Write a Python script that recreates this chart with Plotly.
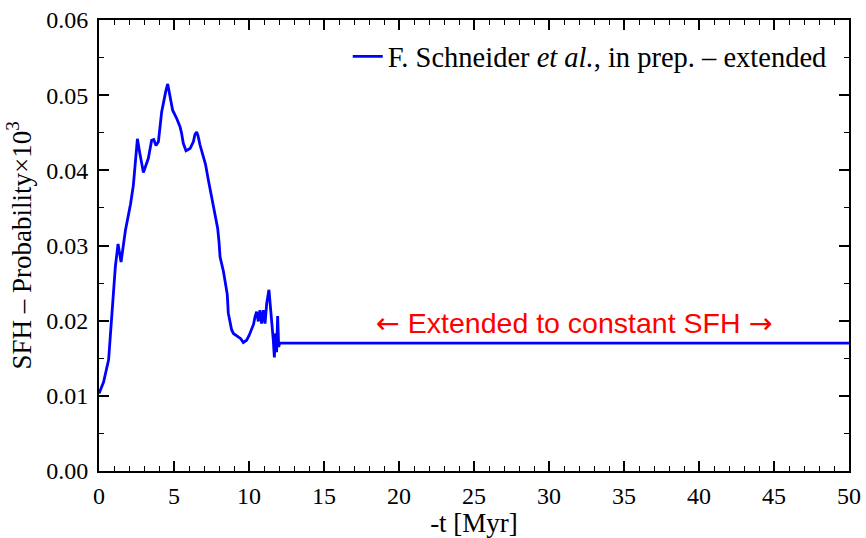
import plotly.graph_objects as go

# Data
t_myr = [0.0, 0.3, 0.64, 0.87, 1.09, 1.27, 1.47, 1.76, 1.91, 2.1, 2.29, 2.45, 2.56, 2.7,
         2.96, 3.1, 3.29, 3.51, 3.65, 3.8, 3.96, 4.18, 4.36, 4.45, 4.58, 4.73, 4.91,
         5.18, 5.4, 5.5, 5.62, 5.8, 6.07, 6.29, 6.4, 6.51, 6.6, 6.73, 6.84, 7.02, 7.1,
         7.29, 7.51, 7.73, 7.91, 8.0, 8.07, 8.3, 8.4, 8.55, 8.62, 8.75, 8.84, 8.96,
         9.29, 9.45, 9.62, 9.84, 10.0, 10.18, 10.3, 10.4, 10.51, 10.62, 10.73, 10.84,
         10.96, 11.07, 11.18, 11.33, 11.44, 11.51, 11.62, 11.69, 11.78, 11.84, 11.91,
         11.98, 12.04, 50.0]
sfh_prob = [0.0103, 0.0118, 0.0148, 0.0214, 0.0272, 0.0302, 0.0278, 0.0320, 0.0334, 0.0355,
            0.0380, 0.0425, 0.0442, 0.0425, 0.0397, 0.0405, 0.0416, 0.0440, 0.0441, 0.0433,
            0.0438, 0.0478, 0.0498, 0.0505, 0.0515, 0.0500, 0.0480, 0.0469, 0.0458, 0.0450,
            0.0436, 0.0426, 0.0429, 0.0438, 0.0448, 0.0451, 0.0446, 0.0434, 0.0427, 0.0414,
            0.0408, 0.0387, 0.0365, 0.0343, 0.0323, 0.0305, 0.0285, 0.0265, 0.0254, 0.0235,
            0.0210, 0.0195, 0.0188, 0.0183, 0.0178, 0.0176, 0.0171, 0.0174, 0.0180, 0.0188,
            0.0195, 0.0205, 0.0212, 0.0199, 0.0214, 0.0196, 0.0214, 0.0196, 0.0223, 0.0241,
            0.0219, 0.0196, 0.0174, 0.0151, 0.0183, 0.0158, 0.0206, 0.0165, 0.0170, 0.0170]

series_name = "F. Schneider <i>et al.</i>, in prep. – extended"
note_text = ("<span style='font-family:DejaVu Sans'>←</span> Extended to constant SFH "
             "<span style='font-family:DejaVu Sans'>→</span>")
note_x, note_y = 31.67, 0.0196

x_range = [0, 50]
y_range = [0, 0.06]

serif = "Liberation Serif, Times New Roman, serif"

fig = go.Figure()
fig.add_trace(go.Scatter(x=t_myr, y=sfh_prob, mode="lines", name=series_name,
                         line=dict(color="#0000ff", width=2.8)))

fig.add_annotation(x=note_x, y=note_y, text=note_text, showarrow=False,
                   font=dict(family="Liberation Sans, Arial, sans-serif", size=28.5, color="#ff0000"))

axis_common = dict(showline=True, linecolor="black", linewidth=2, mirror="ticks",
                   ticks="inside", ticklen=10, tickwidth=1.5, tickcolor="black",
                   showgrid=False, zeroline=False, automargin=False,
                   tickfont=dict(family=serif, size=24, color="black"))

fig.update_xaxes(range=x_range, dtick=5, tick0=0, ticklabelstandoff=2,
                 minor=dict(dtick=1, ticks="inside", ticklen=5, tickwidth=1.2, tickcolor="black"),
                 title=dict(text="-t [Myr]", font=dict(family=serif, size=27, color="black"), standoff=2),
                 **axis_common)
fig.update_yaxes(range=y_range, dtick=0.01, tick0=0, tickformat=".2f", ticklabelstandoff=4,
                 minor=dict(dtick=0.005, ticks="inside", ticklen=5, tickwidth=1.2, tickcolor="black"),
                 title=dict(text="SFH – Probability×10<sup>3</sup>", font=dict(family=serif, size=27, color="black"), standoff=7),
                 **axis_common)

fig.update_layout(
    width=866, height=538,
    margin=dict(l=99, r=17, t=20, b=67),
    paper_bgcolor="white", plot_bgcolor="white",
    showlegend=True,
    legend=dict(x=0.977, y=0.975, xanchor="right", yanchor="top",
                bgcolor="rgba(0,0,0,0)", font=dict(family=serif, size=28.5, color="black")),
)

fig.write_html("out.html", config={"displayModeBar": False},
               post_script="document.body.style.margin='0';document.body.style.overflow='hidden';")
